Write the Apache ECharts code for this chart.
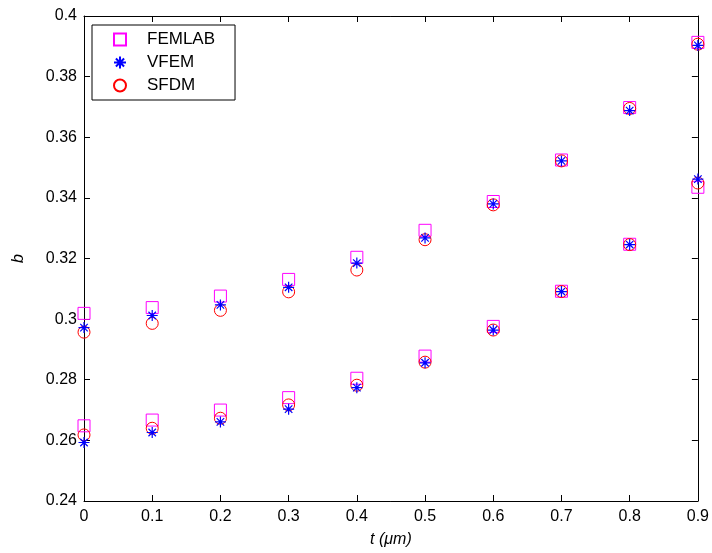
<!DOCTYPE html>
<html>
<head>
<meta charset="utf-8">
<script src="https://cdn.jsdelivr.net/npm/echarts@6/dist/echarts.min.js"></script>
<style>
  html, body { margin: 0; padding: 0; background: #fff; }
  #main { width: 712px; height: 553px; }
</style>
</head>
<body>
<div id="main"></div>
<script>
// t values (um)
var tValues = [0, 0.1, 0.2, 0.3, 0.4, 0.5, 0.6, 0.7, 0.8, 0.9];
var xTicks = ["0", "0.1", "0.2", "0.3", "0.4", "0.5", "0.6", "0.7", "0.8", "0.9"];

// upper branch
var femlabUpper = [0.3019, 0.3038, 0.3076, 0.3131, 0.3204, 0.3293, 0.3388, 0.3525, 0.3698, 0.3913];
var vfemUpper   = [0.2972, 0.3012, 0.3047, 0.3105, 0.3185, 0.3268, 0.3380, 0.3522, 0.3688, 0.3903];
var sfdmUpper   = [0.2957, 0.2986, 0.3029, 0.3090, 0.3162, 0.3262, 0.3377, 0.3522, 0.3695, 0.3907];

// lower branch
var femlabLower = [0.2648, 0.2667, 0.2700, 0.2741, 0.2805, 0.2878, 0.2976, 0.3092, 0.3247, 0.3435];
var vfemLower   = [0.2593, 0.2626, 0.2661, 0.2703, 0.2774, 0.2856, 0.2964, 0.3091, 0.3246, 0.3462];
var sfdmLower   = [0.2618, 0.2640, 0.2673, 0.2717, 0.2782, 0.2858, 0.2964, 0.3091, 0.3246, 0.3449];

function pairs(up, low) {
  var out = [];
  for (var i = 0; i < tValues.length; i++) {
    out.push([tValues[i], up[i]]);
    out.push([tValues[i], low[i]]);
  }
  return out;
}

var font = "Liberation Sans, Arial, sans-serif";
var starPath = "path://M5 0L5 10M0 5L10 5M1.6 1.6L8.4 8.4M1.6 8.4L8.4 1.6";

var chartDom = document.getElementById("main");
var myChart = echarts.init(chartDom);
var option;

var axisCommon = {
  axisLine: { show: true, onZero: false, lineStyle: { color: "#000", width: 1 } },
  axisTick: { show: true, inside: true, length: 6, lineStyle: { color: "#000" } },
  splitLine: { show: false }
};

option = {
  animation: false,
  backgroundColor: "#fff",
  grid: { left: 84, right: 12, top: 16, bottom: 51 },
  legend: {
    orient: "vertical",
    left: 92,
    top: 25,
    padding: [6, 20, 6, 21],
    itemGap: 6,
    itemWidth: 12,
    itemHeight: 12,
    borderColor: "#000",
    borderWidth: 1,
    backgroundColor: "#fff",
    textStyle: { fontFamily: font, fontSize: 17, color: "#000", padding: [0, 0, 0, 16] },
    data: ["FEMLAB", "VFEM", "SFDM"]
  },
  xAxis: [
    Object.assign({}, axisCommon, {
      type: "value",
      min: 0,
      max: 0.9,
      interval: 0.1,
      name: "t (\u03bcm)",
      nameLocation: "middle",
      nameGap: 31,
      nameTextStyle: { fontFamily: font, fontSize: 16, fontStyle: "italic", color: "#000" },
      axisLabel: {
        margin: 8,
        fontFamily: font,
        fontSize: 16,
        color: "#000",
        formatter: function (v) {
          var i = Math.round(v * 10);
          return xTicks[i];
        }
      }
    }),
    Object.assign({}, axisCommon, {
      type: "value",
      position: "top",
      min: 0,
      max: 0.9,
      interval: 0.1,
      axisLabel: { show: false }
    })
  ],
  yAxis: [
    Object.assign({}, axisCommon, {
      type: "value",
      min: 0.24,
      max: 0.4,
      interval: 0.02,
      name: "b",
      nameLocation: "middle",
      nameGap: 57,
      nameTextStyle: { fontFamily: font, fontSize: 16, fontStyle: "italic", color: "#000" },
      axisLabel: {
        margin: 7,
        fontFamily: font,
        fontSize: 16,
        color: "#000",
        formatter: function (v) {
          return String(parseFloat(v.toFixed(2)));
        }
      }
    }),
    Object.assign({}, axisCommon, {
      type: "value",
      position: "right",
      min: 0.24,
      max: 0.4,
      interval: 0.02,
      axisLabel: { show: false }
    })
  ],
  series: [
    {
      name: "FEMLAB",
      type: "scatter",
      symbol: "rect",
      symbolSize: 12,
      itemStyle: { color: "rgba(0,0,0,0)", borderColor: "#ff00ff", borderWidth: 1, opacity: 1 },
      emphasis: { disabled: true },
      data: pairs(femlabUpper, femlabLower)
    },
    {
      name: "SFDM",
      type: "scatter",
      symbol: "circle",
      symbolSize: 12,
      itemStyle: { color: "rgba(0,0,0,0)", borderColor: "#ff0000", borderWidth: 1, opacity: 1 },
      emphasis: { disabled: true },
      data: pairs(sfdmUpper, sfdmLower)
    },
    {
      name: "VFEM",
      type: "scatter",
      symbol: starPath,
      symbolSize: 11,
      itemStyle: { color: "rgba(0,0,0,0)", borderColor: "#0000ff", borderWidth: 1.2, opacity: 1 },
      emphasis: { disabled: true },
      data: pairs(vfemUpper, vfemLower)
    }
  ]
};

option && myChart.setOption(option);
</script>
</body>
</html>
